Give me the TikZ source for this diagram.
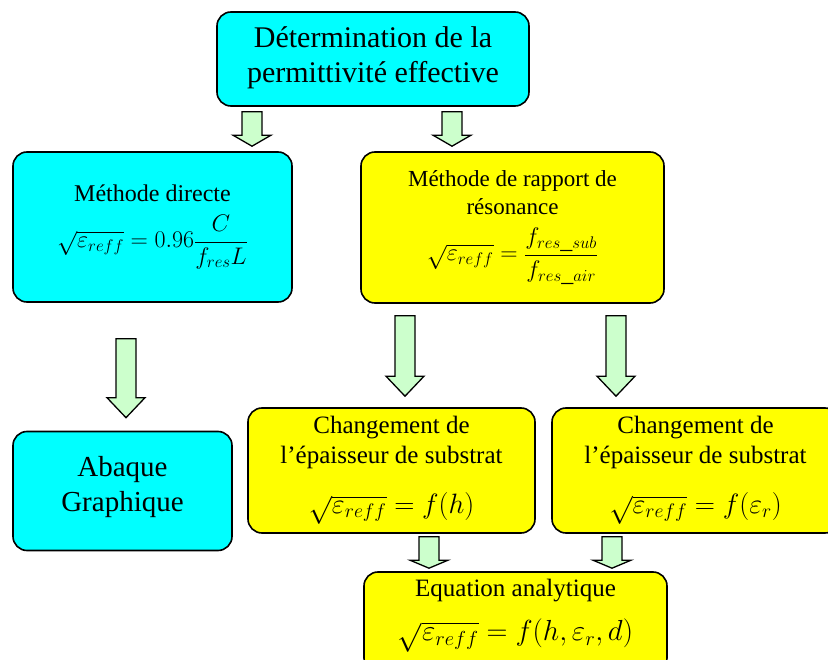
\documentclass[tikz,border=0pt]{standalone}
\usepackage{fix-cm}
\usepackage{fontspec}
\setmainfont{Liberation Serif}
\usetikzlibrary{calc}
\definecolor{boxcyan}{RGB}{0,255,255}
\definecolor{boxyellow}{RGB}{255,255,0}
\definecolor{arrowgreen}{RGB}{204,255,204}
\begin{document}
\begin{tikzpicture}[x=1pt,y=-1pt,
        box/.style={draw=black,line width=1.6pt,rounded corners=14pt,align=center,inner sep=0pt},
        cyanbox/.style={box,fill=boxcyan},
        yellowbox/.style={box,fill=boxyellow},
        bigarrow/.style={draw=black,line width=1.3pt,fill=arrowgreen}]
    \useasboundingbox (0,0) rectangle (828,660);
    % boxes
    \node[cyanbox,minimum width=312pt,minimum height=94pt,font={\fontsize{30}{35}\selectfont}] (top) at (373,59)
        {Détermination de la\\permittivité effective\rule[-8pt]{0pt}{0pt}};
    \node[cyanbox,minimum width=279pt,minimum height=150pt,font={\fontsize{24}{29}\selectfont}] (direct) at (152.5,227)
        {Méthode directe\\[12pt]{\fontsize{24}{30}\selectfont$\displaystyle\sqrt{\varepsilon_{reff}}=0.96\frac{C}{f_{res}L}$}\rule[-20pt]{0pt}{0pt}};
    \node[yellowbox,minimum width=303pt,minimum height=151pt,font={\fontsize{23}{28}\selectfont}] (ratio) at (512.5,227.5)
        {Méthode de rapport de\\résonance\\[12pt]{\fontsize{24}{28}\selectfont$\displaystyle\sqrt{\varepsilon_{reff}}=\frac{f_{res\_sub}}{f_{res\_air}}$}};
    \node[cyanbox,minimum width=219pt,minimum height=119pt,font={\fontsize{29}{35}\selectfont}] (abaque) at (122.5,491)
        {Abaque\\Graphique\rule[-14pt]{0pt}{0pt}};
    \node[yellowbox,minimum width=287pt,minimum height=125pt,font={\fontsize{25}{30}\selectfont}] (thick) at (391.5,470.5)
        {Changement de\\l’épaisseur de substrat\\[20pt]{\fontsize{28}{32}\selectfont$\sqrt{\varepsilon_{reff}}=f(h)$}\rule[-4pt]{0pt}{0pt}};
    \node[yellowbox,minimum width=287pt,minimum height=125pt,font={\fontsize{25}{30}\selectfont}] (perm) at (695.5,470.5)
        {Changement de\\l’épaisseur de substrat\\[20pt]{\fontsize{28}{32}\selectfont$\sqrt{\varepsilon_{reff}}=f(\varepsilon_r)$}\rule[-4pt]{0pt}{0pt}};
    \node[yellowbox,minimum width=303pt,minimum height=100pt,font={\fontsize{25}{30}\selectfont}] (analytic) at (515.5,622)
        {Equation analytique\\[14pt]{\fontsize{29}{32}\selectfont$\sqrt{\varepsilon_{reff}}=f(h,\varepsilon_r,d)$}\rule[-24pt]{0pt}{0pt}};
    % block arrows
    \foreach \ax/\from/\to/\ga/\gb/\hl in {252/top/direct/5/5/11,452/top/ratio/5/5/11,126/direct/abaque/36/13/20,
            405/ratio/thick/12/11/20,616/ratio/perm/12/11/20,429/thick/analytic/3/3/8,612/perm/analytic/3/3/8}
        \draw[bigarrow] let \p1=(\from.south), \p2=(\to.north) in
            (\ax pt-10pt,\y1-\ga pt) -- (\ax pt+10pt,\y1-\ga pt) -- (\ax pt+10pt,\y2+\gb pt+\hl pt)
            -- (\ax pt+19pt,\y2+\gb pt+\hl pt) -- (\ax pt,\y2+\gb pt) -- (\ax pt-19pt,\y2+\gb pt+\hl pt)
            -- (\ax pt-10pt,\y2+\gb pt+\hl pt) -- cycle;
\end{tikzpicture}
\end{document}
